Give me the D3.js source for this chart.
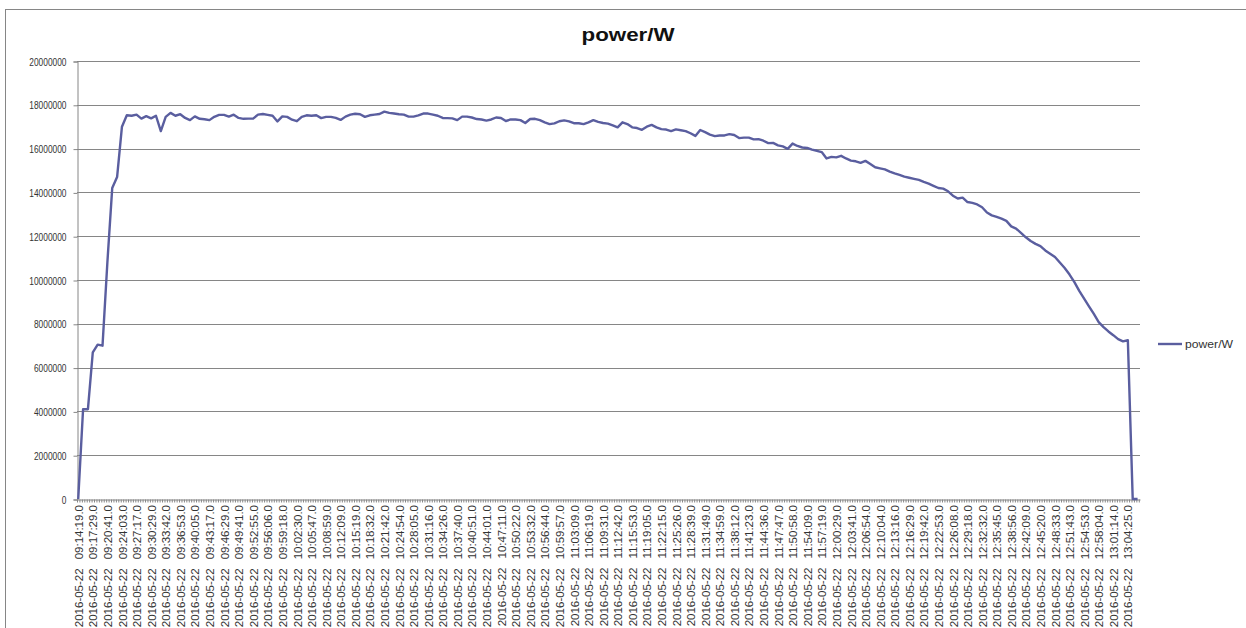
<!DOCTYPE html>
<html>
<head>
<meta charset="utf-8">
<script src="https://cdn.jsdelivr.net/npm/d3@7"></script>
<style>
  body { margin: 0; background: #fff; }
  svg { display: block; font-family: "Liberation Sans", Arial, sans-serif; }
</style>
</head>
<body>
<div id="chart"></div>
<script>
// series name and date shared by every category label
var seriesName = "power/W";
var day = "2016-05-22";

// category labels shown on the x axis (one every 3 samples)
var tickLabels = [
  "09:14:19.0", "09:17:29.0", "09:20:41.0", "09:24:03.0", "09:27:17.0", "09:30:29.0",
  "09:33:42.0", "09:36:53.0", "09:40:05.0", "09:43:17.0", "09:46:29.0", "09:49:41.0",
  "09:52:55.0", "09:56:06.0", "09:59:18.0", "10:02:30.0", "10:05:47.0", "10:08:59.0",
  "10:12:09.0", "10:15:19.0", "10:18:32.0", "10:21:42.0", "10:24:54.0", "10:28:05.0",
  "10:31:16.0", "10:34:26.0", "10:37:40.0", "10:40:51.0", "10:44:01.0", "10:47:11.0",
  "10:50:22.0", "10:53:32.0", "10:56:44.0", "10:59:57.0", "11:03:09.0", "11:06:19.0",
  "11:09:31.0", "11:12:42.0", "11:15:53.0", "11:19:05.0", "11:22:15.0", "11:25:26.0",
  "11:28:39.0", "11:31:49.0", "11:34:59.0", "11:38:12.0", "11:41:23.0", "11:44:36.0",
  "11:47:47.0", "11:50:58.0", "11:54:09.0", "11:57:19.0", "12:00:29.0", "12:03:41.0",
  "12:06:54.0", "12:10:04.0", "12:13:16.0", "12:16:29.0", "12:19:42.0", "12:22:53.0",
  "12:26:08.0", "12:29:18.0", "12:32:32.0", "12:35:45.0", "12:38:56.0", "12:42:09.0",
  "12:45:20.0", "12:48:33.0", "12:51:43.0", "12:54:53.0", "12:58:04.0", "13:01:14.0",
  "13:04:25.0"
];
var labelEvery = 3;

// power readings (W), three samples per labelled interval
var power = [
  0, 4100000, 4100000, 6700000, 7050000, 7000000, 10800000, 14200000, 14700000, 17000000,
  17520000, 17500000, 17550000, 17370000, 17480000, 17380000, 17500000, 16800000, 17450000, 17630000,
  17500000, 17570000, 17400000, 17300000, 17470000, 17360000, 17340000, 17300000, 17450000, 17540000,
  17540000, 17460000, 17550000, 17400000, 17360000, 17370000, 17370000, 17550000, 17580000, 17540000,
  17500000, 17240000, 17470000, 17450000, 17320000, 17250000, 17450000, 17520000, 17500000, 17520000,
  17390000, 17450000, 17450000, 17400000, 17310000, 17460000, 17550000, 17590000, 17570000, 17450000,
  17520000, 17550000, 17580000, 17690000, 17630000, 17600000, 17570000, 17550000, 17460000, 17460000,
  17520000, 17600000, 17600000, 17550000, 17500000, 17400000, 17390000, 17380000, 17300000, 17460000,
  17460000, 17420000, 17350000, 17330000, 17280000, 17330000, 17420000, 17400000, 17260000, 17330000,
  17330000, 17300000, 17170000, 17350000, 17360000, 17300000, 17200000, 17120000, 17150000, 17250000,
  17290000, 17240000, 17160000, 17160000, 17120000, 17200000, 17300000, 17220000, 17170000, 17140000,
  17060000, 16970000, 17200000, 17120000, 16970000, 16940000, 16860000, 17000000, 17080000, 16970000,
  16890000, 16870000, 16800000, 16880000, 16840000, 16800000, 16700000, 16580000, 16850000, 16750000,
  16640000, 16570000, 16600000, 16600000, 16660000, 16620000, 16480000, 16500000, 16500000, 16420000,
  16430000, 16360000, 16250000, 16260000, 16150000, 16100000, 15990000, 16230000, 16120000, 16050000,
  16030000, 15950000, 15900000, 15840000, 15550000, 15620000, 15600000, 15670000, 15550000, 15450000,
  15420000, 15350000, 15440000, 15300000, 15150000, 15100000, 15050000, 14950000, 14870000, 14800000,
  14720000, 14670000, 14620000, 14570000, 14480000, 14400000, 14300000, 14200000, 14170000, 14050000,
  13850000, 13720000, 13760000, 13560000, 13520000, 13450000, 13320000, 13080000, 12950000, 12880000,
  12800000, 12700000, 12450000, 12350000, 12150000, 11950000, 11780000, 11650000, 11550000, 11350000,
  11200000, 11050000, 10800000, 10550000, 10250000, 9900000, 9500000, 9150000, 8800000, 8450000,
  8080000, 7850000, 7650000, 7480000, 7300000, 7200000, 7250000, 0, 0
];

// y axis tick values
var yTicks = [0, 2000000, 4000000, 6000000, 8000000, 10000000, 12000000,
  14000000, 16000000, 18000000, 20000000];

var width = 1246, height = 628;
var plotLeft = 77, plotRight = 1140, plotTop = 61, plotBottom = 499;
var gray = "#868686";
var lineColor = "#5a5e9f";

var svg = d3.select("#chart").append("svg")
    .attr("width", width)
    .attr("height", height);

svg.append("rect")
    .attr("width", width).attr("height", height)
    .attr("fill", "#fff");

// chart area border (only top and left edges fall inside the picture)
svg.append("rect")
    .attr("x", 5.5).attr("y", 9.5)
    .attr("width", 1400).attr("height", 800)
    .attr("fill", "none")
    .attr("stroke", gray);

var x = d3.scaleLinear()
    .domain([-0.25, power.length - 0.5])
    .range([plotLeft, plotRight]);
var y = d3.scaleLinear()
    .domain([0, d3.max(yTicks)])
    .range([plotBottom, plotTop]);

// horizontal gridlines
svg.append("g")
    .selectAll("line")
    .data(yTicks.filter(function(d) { return d > 0; }))
    .enter().append("line")
    .attr("x1", plotLeft).attr("x2", plotRight)
    .attr("y1", function(d) { return Math.round(y(d)) + 0.5; })
    .attr("y2", function(d) { return Math.round(y(d)) + 0.5; })
    .attr("stroke", gray);

// y axis, labels are narrow in the original so squeeze them a bit
var yAxis = svg.append("g")
    .attr("transform", "translate(" + (plotLeft + 0.5) + ",0.5)")
    .call(d3.axisLeft(y).tickValues(yTicks).tickSize(4).tickPadding(7)
        .tickFormat(d3.format("d")));
yAxis.selectAll("path, line").attr("stroke", gray);
yAxis.selectAll("text")
    .attr("fill", "#333")
    .attr("textLength", function(d) { return String(d).length * 4.65; })
    .attr("lengthAdjust", "spacingAndGlyphs")
    .style("font-size", "11.5px");

// x axis: small tick marks between samples
var minorTicks = d3.range(-0.25, power.length - 0.4, 0.5);
var xMinor = svg.append("g")
    .attr("transform", "translate(0," + (plotBottom + 0.5) + ")")
    .call(d3.axisBottom(x).tickValues(minorTicks).tickSize(3).tickFormat("").tickSizeOuter(0));
xMinor.selectAll("path, line").attr("stroke", gray);

// x axis labels
var labelIdx = tickLabels.map(function(d, i) { return i * labelEvery; });
var xLabels = svg.append("g")
    .attr("transform", "translate(0," + plotBottom + ")")
    .call(d3.axisBottom(x).tickValues(labelIdx).tickSize(0)
        .tickFormat(function(d) { return tickLabels[d / labelEvery]; }));
xLabels.select(".domain").remove();
xLabels.selectAll("text")
    .attr("transform", "rotate(-90)")
    .attr("x", -6).attr("y", 0).attr("dy", "0.36em")
    .attr("text-anchor", "end")
    .attr("fill", "#333")
    .style("font-size", "11.5px")
    .text(null)
    .each(function(d) {
      var t = d3.select(this);
      t.append("tspan").text(day);
      t.append("tspan").attr("dx", 9).text(tickLabels[d / labelEvery]);
    });

// the series
var line = d3.line()
    .x(function(d, i) { return x(i); })
    .y(function(d) { return y(d); });
svg.append("path")
    .datum(power)
    .attr("fill", "none")
    .attr("stroke", lineColor)
    .attr("stroke-width", 2.4)
    .attr("stroke-linejoin", "round")
    .attr("d", line);

// title
svg.append("text")
    .attr("x", 628).attr("y", 41)
    .attr("text-anchor", "middle")
    .attr("font-weight", "bold")
    .attr("font-size", 17.5)
    .attr("textLength", 93)
    .attr("lengthAdjust", "spacingAndGlyphs")
    .attr("fill", "#111")
    .text(seriesName);

// legend
var legend = svg.append("g").attr("transform", "translate(1158,344)");
legend.append("line")
    .attr("x1", 0).attr("x2", 24)
    .attr("stroke", lineColor).attr("stroke-width", 2.4);
legend.append("text")
    .attr("x", 27).attr("dy", "0.35em")
    .attr("font-size", 11)
    .attr("textLength", 48)
    .attr("lengthAdjust", "spacingAndGlyphs")
    .attr("fill", "#333")
    .text(seriesName);
</script>
</body>
</html>
